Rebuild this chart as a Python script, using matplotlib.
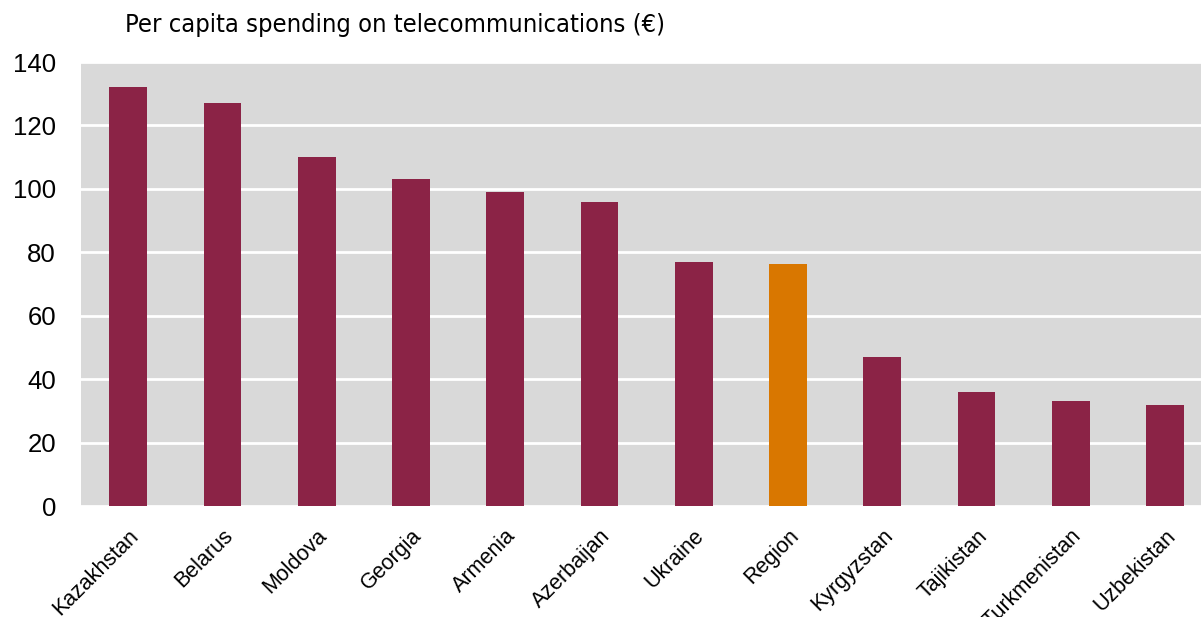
import numpy as np
import matplotlib.pyplot as plt

# dados
paises = ['Kazakhstan', 'Belarus', 'Moldova', 'Georgia', 'Armenia', 'Azerbaijan',
          'Ukraine', 'Region', 'Kyrgyzstan', 'Tajikistan', 'Turkmenistan', 'Uzbekistan']
gasto = [132, 127, 110, 103, 99, 96, 77, 76.3, 47, 36, 33, 32]
destaque = 'Region'

cor_barra = '#8B2346'
cor_regiao = '#D97700'
cores = [cor_regiao if p == destaque else cor_barra for p in paises]

fig = plt.figure(figsize=(12.01, 6.17), dpi=100)
ax = fig.add_axes([81/1201, 1 - 506/617, 1 - 81/1201, (506 - 62)/617])
ax.set_facecolor('#D9D9D9')

x = np.arange(len(paises))
ax.bar(x, gasto, width=0.4, color=cores, zorder=3)

ax.set_ylim(0, 140)
ax.set_xlim(-0.5, 11.38)
ax.set_yticks(range(0, 141, 20))
ax.yaxis.grid(True, color='white', linewidth=2, zorder=1)
ax.tick_params(axis='both', length=0)
ax.tick_params(axis='y', labelsize=18.5, pad=18)
ax.tick_params(axis='x', pad=14)
ax.set_xticks(x)
ax.set_xticklabels(paises, rotation=45, ha='right', rotation_mode='anchor',
                   fontsize=15.5, family=['Liberation Sans', 'DejaVu Sans'])
for t in ax.get_yticklabels():
    t.set_family(['Liberation Sans', 'DejaVu Sans'])
for s in ax.spines.values():
    s.set_visible(False)

fig.text(125/1201, 1 - 25/617, 'Per capita spending on telecommunications (€)',
         fontsize=18.3, va='center', ha='left', family='DejaVu Sans', stretch='condensed')

fig.savefig('out.png', dpi=100)
